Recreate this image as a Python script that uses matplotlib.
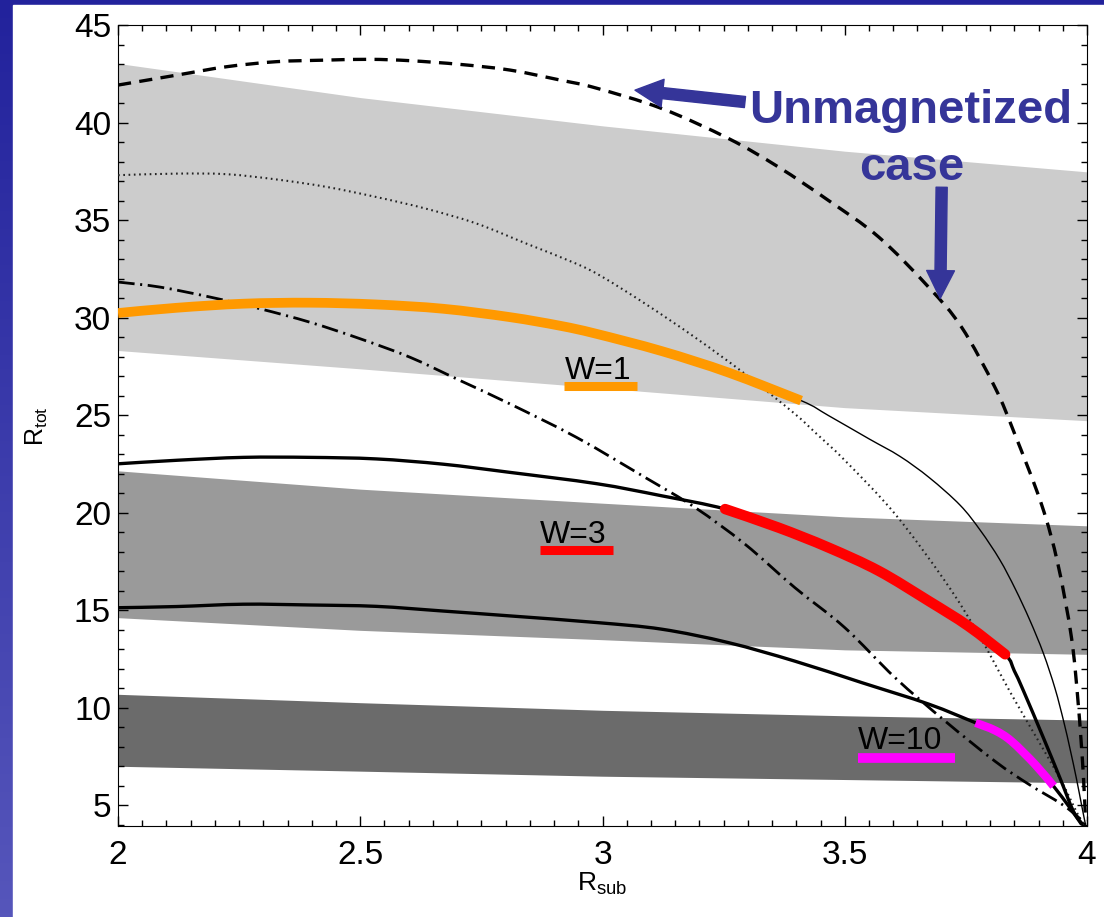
import numpy as np
import matplotlib.pyplot as plt
from matplotlib.colors import LinearSegmentedColormap
from matplotlib.patches import Rectangle, PathPatch
from matplotlib.path import Path
from matplotlib.ticker import MultipleLocator, FuncFormatter

plt.rcParams['font.family'] = ['Liberation Sans', 'DejaVu Sans']
plt.rcParams['mathtext.fontset'] = 'custom'
plt.rcParams['mathtext.rm'] = 'Liberation Sans'
plt.rcParams['mathtext.it'] = 'Liberation Sans:italic'
plt.rcParams['mathtext.bf'] = 'Liberation Sans:bold'
plt.rcParams['lines.scale_dashes'] = False

# shaded bands (lower / upper edge of each)
band_x = [2.0, 2.5, 3.0, 3.5, 4.0]
light_lo = [28.33, 27.39, 26.40, 25.40, 24.73]
light_hi = [43.05, 41.30, 39.85, 38.55, 37.49]
mid_lo = [14.63, 13.98, 13.50, 12.98, 12.75]
mid_hi = [22.16, 21.22, 20.50, 19.80, 19.34]
dark_lo = [7.01, 6.76, 6.50, 6.33, 6.16]
dark_hi = [10.70, 10.27, 9.88, 9.60, 9.38]

# unmagnetized case (dashed)
rsub_unmag = [2.0, 2.121, 2.224, 2.327, 2.43, 2.52, 2.603, 2.706, 2.809, 2.912,
              2.985, 3.122, 3.26, 3.363, 3.466, 3.57, 3.673, 3.741, 3.81, 3.85,
              3.906, 3.94, 3.968, 3.982, 3.992, 3.997]
rtot_unmag = [41.94, 42.45, 42.88, 43.14, 43.22, 43.26, 43.19, 43.0, 42.71, 42.2,
              41.8, 40.74, 39.2, 37.74, 36.03, 34.15, 31.58, 29.53, 26.44, 24.1,
              20.45, 17.37, 13.6, 10.18, 6.76, 4.2]

# dotted curve
rsub_dot = [2.0, 2.121, 2.224, 2.327, 2.43, 2.533, 2.636, 2.74, 2.843, 2.946,
            3.0, 3.088, 3.191, 3.294, 3.397, 3.44, 3.5, 3.604, 3.707, 3.776,
            3.844, 3.9, 3.947, 3.982, 3.995]
rtot_dot = [37.32, 37.4, 37.37, 37.1, 36.72, 36.2, 35.6, 34.84, 33.81, 32.78,
            32.1, 30.73, 29.0, 27.13, 25.08, 24.1, 22.7, 19.94, 16.5, 13.78,
            10.7, 8.3, 6.25, 4.5, 4.0]

# dash-dot curve
rsub_dd = [2.0, 2.087, 2.19, 2.293, 2.396, 2.5, 2.603, 2.706, 2.809, 2.946,
           3.088, 3.191, 3.294, 3.397, 3.5, 3.604, 3.707, 3.81, 3.879, 3.947,
           3.982, 3.997]
rtot_dd = [31.84, 31.58, 31.07, 30.47, 29.78, 28.93, 27.98, 26.79, 25.59, 23.88,
           21.82, 20.28, 18.4, 16.17, 14.12, 11.55, 9.33, 7.27, 6.1, 5.08,
           4.4, 4.0]

# W=1
rsub_w1 = np.array([2.0, 2.121, 2.259, 2.396, 2.533, 2.671, 2.809, 2.912, 2.985, 3.122,
                    3.26, 3.41, 3.466, 3.55, 3.614, 3.675, 3.738, 3.78, 3.82, 3.852,
                    3.882, 3.91, 3.934, 3.952, 3.965, 3.978, 3.989, 3.997])
rtot_w1 = np.array([30.25, 30.52, 30.73, 30.78, 30.69, 30.47, 30.04, 29.6, 29.2, 28.3,
                    27.2, 25.76, 25.0, 23.8, 22.9, 21.8, 20.4, 19.1, 17.6, 16.1,
                    14.5, 12.8, 11.0, 9.3, 7.9, 6.4, 5.0, 4.0])

# W=3
rsub_w3 = np.array([2.0, 2.121, 2.259, 2.396, 2.533, 2.671, 2.809, 2.988, 3.122, 3.253,
                    3.363, 3.466, 3.57, 3.673, 3.755, 3.831, 3.85, 3.869, 3.91,
                    3.944, 3.972, 3.992])
rtot_w3 = np.array([22.52, 22.7, 22.85, 22.85, 22.77, 22.5, 22.08, 21.5, 20.88, 20.2,
                    19.25, 18.23, 17.03, 15.49, 14.2, 12.75, 11.9, 10.87, 8.47,
                    6.42, 4.7, 4.0])

# W=10
rsub_w10 = np.array([2.0, 2.121, 2.259, 2.396, 2.533, 2.671, 2.809, 2.988, 3.122, 3.26,
                     3.397, 3.535, 3.673, 3.77, 3.81, 3.844, 3.893, 3.931, 3.965, 3.989])
rtot_w10 = np.array([15.14, 15.2, 15.32, 15.28, 15.21, 14.97, 14.72, 14.38, 14.04, 13.35,
                     12.4, 11.3, 10.2, 9.24, 8.85, 8.3, 7.1, 5.99, 4.87, 4.02])


def curve(ax, x, y, **kw):
    # smooth (Catmull-Rom style) bezier path through the read points
    pts = np.column_stack([x, y]).astype(float)
    verts = [pts[0]]
    codes = [Path.MOVETO]
    n = len(pts)
    for i in range(n - 1):
        p0 = pts[max(i - 1, 0)]
        p1 = pts[i]
        p2 = pts[i + 1]
        p3 = pts[min(i + 2, n - 1)]
        verts += [p1 + (p2 - p0) / 6, p2 - (p3 - p1) / 6, p2]
        codes += [Path.CURVE4] * 3
    ax.add_patch(PathPatch(Path(verts, codes), fill=False, **kw))


fig = plt.figure(figsize=(11.04, 9.17), dpi=100)

# blue slide background with the white picture on it
bg = fig.add_axes([0, 0, 1, 1])
slide = LinearSegmentedColormap.from_list('slide', ['#22229c', '#5656bb'])
bg.imshow(np.linspace(0, 1, 256).reshape(-1, 1), aspect='auto', cmap=slide,
          extent=[0, 1, 0, 1], origin='upper')
bg.add_patch(Rectangle((13 / 1104, 0), 1, 1 - 5 / 917, transform=bg.transAxes,
                       color='white'))
bg.set_xlim(0, 1)
bg.set_ylim(0, 1)
bg.axis('off')

ax = fig.add_axes([0.1069, 0.0993, 0.8777, 0.873])

ax.fill_between(band_x, light_lo, light_hi, color='#cccccc', lw=0, zorder=1)
ax.fill_between(band_x, mid_lo, mid_hi, color='#9a9a9a', lw=0, zorder=1)
ax.fill_between(band_x, dark_lo, dark_hi, color='#6b6b6b', lw=0, zorder=1)

curve(ax, rsub_unmag, rtot_unmag, edgecolor='black', lw=2.4,
      linestyle=(0, (9.5, 6)), zorder=3)
curve(ax, rsub_dot, rtot_dot, edgecolor='#222222', lw=1.5,
      linestyle=(0, (1.2, 2.6)), zorder=3)
curve(ax, rsub_dd, rtot_dd, edgecolor='black', lw=2.0,
      linestyle=(0, (12, 4, 1.5, 4)), zorder=3)

curve(ax, rsub_w1, rtot_w1, edgecolor='black', lw=1.0, zorder=4)
curve(ax, rsub_w3, rtot_w3, edgecolor='black', lw=2.4, zorder=4)
curve(ax, rsub_w10, rtot_w10, edgecolor='black', lw=2.4, zorder=4)

m1 = rsub_w1 <= 3.41
curve(ax, rsub_w1[m1], rtot_w1[m1], edgecolor='#ff9900', lw=7, capstyle='butt', zorder=5)
m3 = (rsub_w3 >= 3.25) & (rsub_w3 <= 3.84)
curve(ax, rsub_w3[m3], rtot_w3[m3], edgecolor='red', lw=7.5, capstyle='round', zorder=5)
m10 = (rsub_w10 >= 3.76) & (rsub_w10 <= 3.94)
curve(ax, rsub_w10[m10], rtot_w10[m10], edgecolor='magenta', lw=6, capstyle='butt', zorder=5)

# W labels with coloured underline
ax.text(2.923, 26.89, 'W=1', fontsize=23, zorder=6)
ax.plot([2.921, 3.071], [26.53, 26.53], color='#ff9900', lw=6.5, solid_capstyle='butt', zorder=6)
ax.text(2.871, 18.47, 'W=3', fontsize=23, zorder=6)
ax.plot([2.871, 3.022], [18.11, 18.11], color='red', lw=6.5, solid_capstyle='butt', zorder=6)
ax.text(3.527, 7.89, 'W=10', fontsize=23, zorder=6)
ax.plot([3.527, 3.728], [7.43, 7.43], color='magenta', lw=7, solid_capstyle='butt', zorder=6)

# unmagnetized annotation
navy = '#353599'
ax.text(3.637, 40.0, 'Unmagnetized', fontsize=34, fontweight='bold', color=navy,
        ha='center', va='baseline', zorder=7)
ax.text(3.639, 37.06, 'case', fontsize=34, fontweight='bold', color=navy,
        ha='center', va='baseline', zorder=7)
arrow = dict(arrowstyle='simple,head_width=1.0,head_length=1.0,tail_width=0.4',
             color=navy, shrinkA=0, shrinkB=0, mutation_scale=20)
ax.annotate('', xy=(3.067, 41.68), xytext=(3.294, 41.07), arrowprops=arrow, zorder=7)
ax.annotate('', xy=(3.697, 31.0), xytext=(3.70, 36.7), arrowprops=arrow, zorder=7)

ax.set_xlim(2, 4)
ax.set_ylim(3.95, 45)
ax.xaxis.set_major_locator(MultipleLocator(0.5))
ax.xaxis.set_minor_locator(MultipleLocator(0.05))
ax.yaxis.set_major_locator(MultipleLocator(5))
ax.yaxis.set_minor_locator(MultipleLocator(1))
ax.xaxis.set_major_formatter(FuncFormatter(lambda v, p: '%g' % v))
ax.tick_params(which='both', direction='in', top=True, right=True, width=1, labelsize=24)
ax.tick_params(which='major', length=7)
ax.tick_params(which='minor', length=4.3)
ax.tick_params(axis='x', pad=10)
ax.tick_params(axis='y', pad=5)

ax.set_xlabel(r'R$_{\mathrm{sub}}$', fontsize=19)
ax.xaxis.set_label_coords(0.5, -0.056)
ax.set_ylabel(r'R$_{\mathrm{tot}}$', fontsize=18)
ax.yaxis.set_label_coords(-0.07, 0.5)

plt.savefig('out.png', dpi=100)
